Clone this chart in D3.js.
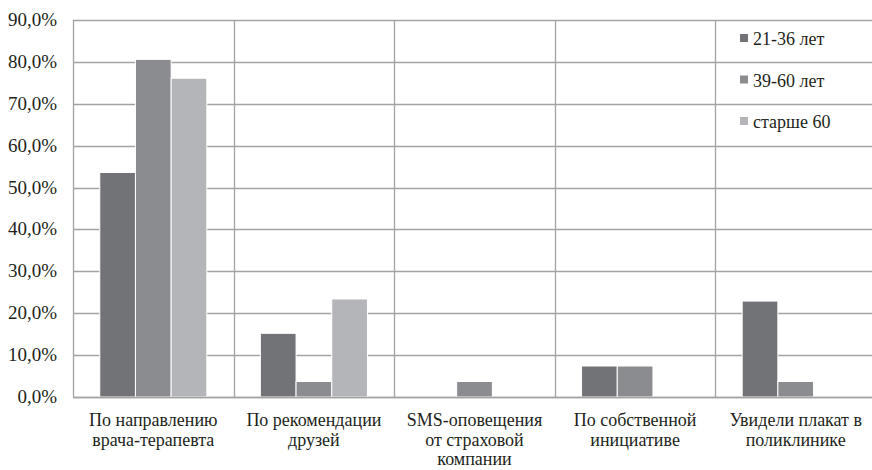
<!DOCTYPE html>
<html>
<head>
<meta charset="utf-8">
<script src="https://cdn.jsdelivr.net/npm/d3@7"></script>
<style>
  html, body { margin: 0; padding: 0; background: #fff; }
  svg { display: block; }
</style>
</head>
<body>
<svg id="chart" width="872" height="470"></svg>
<script>
// Source of information about the screening, by age group (% of respondents)
const categories = [
  "По направлению\nврача-терапевта",
  "По рекомендации\nдрузей",
  "SMS-оповещения\nот страховой\nкомпании",
  "По собственной\nинициативе",
  "Увидели плакат в\nполиклинике"
];
const seriesNames = ["21-36 лет", "39-60 лет", "старше 60"];
const values21to36 = [53.6, 15.2, 0, 7.4, 22.9];
const values39to60 = [80.6, 3.7, 3.7, 7.4, 3.7];
const valuesOver60 = [76.1, 23.4, 0, 0, 0];
const yTicks = [0, 10, 20, 30, 40, 50, 60, 70, 80, 90];

const seriesValues = [values21to36, values39to60, valuesOver60];
const colors = ["#727377", "#8b8c90", "#b4b5b9"];

const svg = d3.select("#chart");
const plotLeft = 73, plotRight = 876, plotTop = 20, plotBottom = 397;

const x0 = d3.scaleBand().domain(categories).range([plotLeft, plotRight]).paddingInner(0).paddingOuter(0);
const x1 = d3.scaleBand().domain(seriesNames).range([0, x0.bandwidth()]).paddingInner(0).paddingOuter(0.75);
const y = d3.scaleLinear().domain([0, 90]).range([plotBottom, plotTop]);

// horizontal gridlines
svg.selectAll("line.h").data(yTicks).join("line")
  .attr("class", "h")
  .attr("x1", plotLeft).attr("x2", plotRight)
  .attr("y1", d => Math.round(y(d)) + 0.5).attr("y2", d => Math.round(y(d)) + 0.5)
  .attr("stroke", "#a3a3a3").attr("stroke-width", 1.3);

// vertical separators between categories (plus the left edge)
svg.selectAll("line.v").data(categories).join("line")
  .attr("class", "v")
  .attr("x1", d => Math.round(x0(d)) + 0.5).attr("x2", d => Math.round(x0(d)) + 0.5)
  .attr("y1", plotTop).attr("y2", plotBottom)
  .attr("stroke", "#a3a3a3").attr("stroke-width", 1.3);

// bars
const rows = [];
categories.forEach((c, i) => {
  seriesNames.forEach((s, j) => rows.push({ c, s, j, v: seriesValues[j][i] }));
});
svg.selectAll("rect.bar").data(rows.filter(d => d.v > 0)).join("rect")
  .attr("class", "bar")
  .attr("x", d => x0(d.c) + x1(d.s))
  .attr("width", x1.bandwidth())
  .attr("y", d => y(d.v))
  .attr("height", d => y(0) - y(d.v))
  .attr("fill", d => colors[d.j])
  .attr("stroke", "#ffffff")
  .attr("stroke-width", 1);

// redraw the baseline over the bars
svg.append("line")
  .attr("x1", plotLeft).attr("x2", plotRight)
  .attr("y1", Math.round(y(0)) + 0.5).attr("y2", Math.round(y(0)) + 0.5)
  .attr("stroke", "#a3a3a3").attr("stroke-width", 1.3);

// y axis labels
const fmt = v => v.toFixed(1).replace(".", ",") + "%";
svg.selectAll("text.ytick").data(yTicks).join("text")
  .attr("class", "ytick")
  .attr("x", 57)
  .attr("y", d => y(d) + 6)
  .attr("text-anchor", "end")
  .attr("font-size", 19)
  .attr("fill", "#231f20")
  .style("font-family", '"Liberation Serif"')
  .text(fmt);

// category labels, one text element per line
const catLines = [];
categories.forEach(c => c.split("\n").forEach((line, i) => catLines.push({ c, line, i })));
svg.selectAll("text.cat").data(catLines).join("text")
  .attr("class", "cat")
  .attr("x", d => x0(d.c) + x0.bandwidth() / 2)
  .attr("y", d => 426 + d.i * 19.5)
  .attr("text-anchor", "middle")
  .attr("font-size", 18)
  .attr("fill", "#231f20")
  .style("font-family", '"Liberation Serif"')
  .text(d => d.line);

// legend
svg.selectAll("rect.key").data(seriesNames).join("rect")
  .attr("class", "key")
  .attr("x", 740).attr("y", (d, i) => 34 + i * 41.5)
  .attr("width", 8).attr("height", 8)
  .attr("fill", (d, i) => colors[i]);
svg.selectAll("text.key").data(seriesNames).join("text")
  .attr("class", "key")
  .attr("x", 753).attr("y", (d, i) => 45 + i * 41.5)
  .attr("font-size", 18)
  .attr("fill", "#231f20")
  .style("font-family", '"Liberation Serif"')
  .text(d => d);
</script>
</body>
</html>
